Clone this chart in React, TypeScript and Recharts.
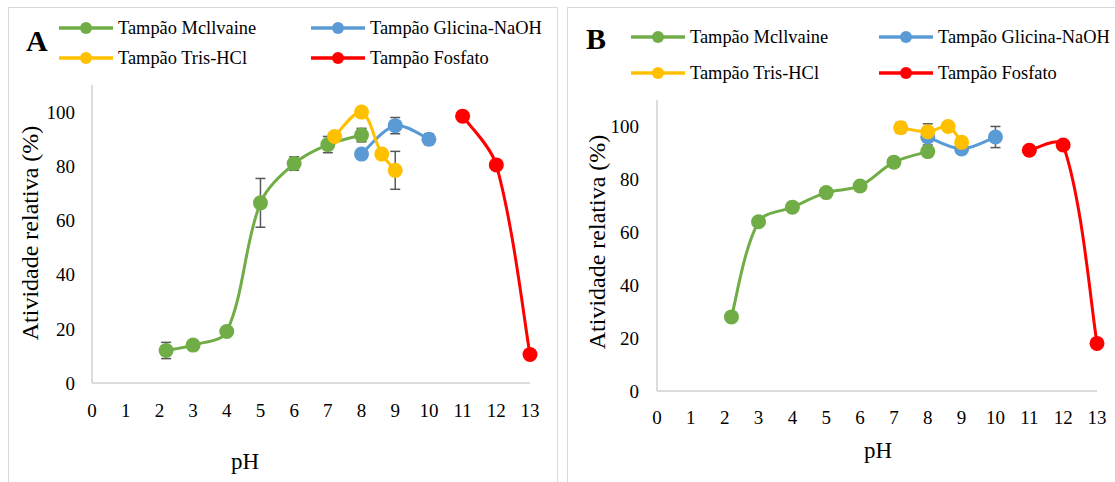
import React from 'react';
import { LineChart, Line, XAxis, YAxis, ErrorBar, Label } from 'recharts';

const FONT = '"Liberation Serif", "Times New Roman", serif';

// pH values per buffer
const phMcIlvaine = [2.2, 3, 4, 5, 6, 7, 8];
const phGlycine = [8, 9, 10];
const phTris = [7.2, 8, 8.6, 9];
const phPhosphate = [11, 12, 13];

// Panel A
const mcA = [12, 14, 19, 66.5, 81, 88, 91.5];
const mcAErr = [3, 0, 0, 9, 2.5, 3, 2.5];
const glyA = [84.5, 95, 90];
const glyAErr = [0, 3, 2];
const trisA = [91, 100, 84.5, 78.5];
const trisAErr = [0, 0, 0, 7];
const fosA = [98.5, 80.5, 10.5];
const fosAErr = [0, 0, 0];

// Panel B
const mcB = [28, 64, 69.5, 75, 77.5, 86.5, 90.5];
const mcBErr = [0, 0, 0, 0, 0, 0, 0];
const glyB = [96, 91.5, 96];
const glyBErr = [3, 0, 4];
const trisB = [99.5, 98, 100, 94];
const trisBErr = [2, 3, 0, 0];
const fosB = [91, 93, 18];
const fosBErr = [0, 0, 0];

const xTicks = [0, 1, 2, 3, 4, 5, 6, 7, 8, 9, 10, 11, 12, 13];
const yTicks = [0, 20, 40, 60, 80, 100];

const seriesNames = ['Tampão Mcllvaine', 'Tampão Glicina-NaOH', 'Tampão Tris-HCl', 'Tampão Fosfato'];
const colors = ['#70ad47', '#5b9bd5', '#ffc000', '#ff0000'];

const build = (xs: number[], ys: number[], es: number[]) =>
  xs.map((ph, i) => ({ ph, v: ys[i], err: es[i] }));

// Excel-like smoothed line: tangent handles split by adjacent chord lengths
function excelSmooth(context: any) {
  let pts: number[][] = [];
  return {
    areaStart() {},
    areaEnd() {},
    lineStart() {
      pts = [];
    },
    point(x: number, y: number) {
      pts.push([+x, +y]);
    },
    lineEnd() {
      const n = pts.length;
      if (!n) return;
      context.moveTo(pts[0][0], pts[0][1]);
      const dist = (a: number[], b: number[]) => Math.hypot(b[0] - a[0], b[1] - a[1]);
      const k = 1 / 3;
      for (let i = 0; i < n - 1; i++) {
        const p1 = pts[i];
        const p2 = pts[i + 1];
        const d1 = dist(p1, p2);
        let c1x: number, c1y: number, c2x: number, c2y: number;
        if (i === 0) {
          c1x = p1[0] + (p2[0] - p1[0]) / 6;
          c1y = p1[1] + (p2[1] - p1[1]) / 6;
        } else {
          const p0 = pts[i - 1];
          const d0 = dist(p0, p1);
          const r = d1 / (d0 + d1 || 1);
          c1x = p1[0] + (p2[0] - p0[0]) * r * k;
          c1y = p1[1] + (p2[1] - p0[1]) * r * k;
        }
        if (i === n - 2) {
          c2x = p2[0] - (p2[0] - p1[0]) / 6;
          c2y = p2[1] - (p2[1] - p1[1]) / 6;
        } else {
          const p3 = pts[i + 2];
          const d2 = dist(p2, p3);
          const r = d1 / (d1 + d2 || 1);
          c2x = p2[0] - (p3[0] - p1[0]) * r * k;
          c2y = p2[1] - (p3[1] - p1[1]) * r * k;
        }
        context.bezierCurveTo(c1x, c1y, c2x, c2y, p2[0], p2[1]);
      }
    },
  };
}

const tickStyle = { fontFamily: FONT, fontSize: 19, fill: '#000' };

type PanelProps = {
  left: number;
  width: number;
  height: number;
  margin: { top: number; right: number; bottom: number; left: number };
  yAxisWidth: number;
  xTickMargin: number;
  yTickMargin: number;
  series: { data: any[] }[];
  yTitle: { x: number; y: number };
  xTitle: { x: number; y: number };
};

function Panel(p: PanelProps) {
  return (
    <div style={{ position: 'absolute', left: p.left, top: 0 }}>
      <LineChart width={p.width} height={p.height} margin={p.margin}>
        <XAxis
          type="number"
          dataKey="ph"
          domain={[0, 13]}
          ticks={xTicks}
          interval={0}
          tickLine={false}
          tickSize={0}
          tickMargin={p.xTickMargin}
          height={30}
          axisLine={{ stroke: '#d0d0d0', strokeWidth: 1.5 }}
          tick={tickStyle}
          allowDuplicatedCategory={false}
        >
          <Label
            content={() => (
              <text x={p.xTitle.x} y={p.xTitle.y} textAnchor="middle" dominantBaseline="central"
                style={{ fontFamily: FONT, fontSize: 23, fill: '#000' }}>pH</text>
            )}
          />
        </XAxis>
        <YAxis
          type="number"
          domain={[0, 110]}
          ticks={yTicks}
          interval={0}
          width={p.yAxisWidth}
          tickLine={false}
          tickSize={0}
          tickMargin={p.yTickMargin}
          axisLine={{ stroke: '#d0d0d0', strokeWidth: 1.5 }}
          tick={tickStyle}
        >
          <Label
            content={() => (
              <text x={p.yTitle.x} y={p.yTitle.y} textAnchor="middle" dominantBaseline="central"
                transform={`rotate(-90 ${p.yTitle.x} ${p.yTitle.y})`}
                style={{ fontFamily: FONT, fontSize: 24, fill: '#000' }}>Atividade relativa (%)</text>
            )}
          />
        </YAxis>
        {p.series.map((s, i) => (
          <Line
            key={i}
            data={s.data}
            dataKey="v"
            name={seriesNames[i]}
            type={excelSmooth as any}
            stroke={colors[i]}
            strokeWidth={3}
            dot={{ r: 7.5, fill: colors[i], stroke: colors[i], strokeWidth: 0 }}
            activeDot={false}
            isAnimationActive={false}
          >
            <ErrorBar dataKey="err" width={5} stroke="#595959" strokeWidth={1.5} direction="y" />
          </Line>
        ))}
      </LineChart>
    </div>
  );
}

function LegendItem({ x, y, i }: { x: number; y: number; i: number }) {
  return (
    <div style={{ position: 'absolute', left: x, top: y - 12, height: 24, display: 'flex', alignItems: 'center', whiteSpace: 'nowrap' }}>
      <svg width={56} height={16} style={{ marginRight: 4 }}>
        <line x1={1} y1={8} x2={55} y2={8} stroke={colors[i]} strokeWidth={3.5} />
        <circle cx={28} cy={8} r={6} fill={colors[i]} />
      </svg>
      <span style={{ fontFamily: FONT, fontSize: 18.4, color: '#000' }}>{seriesNames[i]}</span>
    </div>
  );
}

export default function App() {
  const seriesA = [
    { data: build(phMcIlvaine, mcA, mcAErr) },
    { data: build(phGlycine, glyA, glyAErr) },
    { data: build(phTris, trisA, trisAErr) },
    { data: build(phPhosphate, fosA, fosAErr) },
  ];
  const seriesB = [
    { data: build(phMcIlvaine, mcB, mcBErr) },
    { data: build(phGlycine, glyB, glyBErr) },
    { data: build(phTris, trisB, trisBErr) },
    { data: build(phPhosphate, fosB, fosBErr) },
  ];
  return (
    <div style={{ position: 'absolute', left: 0, top: 0, width: 1115, height: 482, overflow: 'hidden', background: '#fff' }}>
      <div style={{ position: 'absolute', left: 8, top: 7, width: 548, height: 500, border: '1px solid #d9d9d9' }} />
      <div style={{ position: 'absolute', left: 567, top: 7, width: 560, height: 500, border: '1px solid #d9d9d9' }} />

      <Panel
        left={0}
        width={557}
        height={482}
        margin={{ top: 85, right: 27, bottom: 69, left: 0 }}
        yAxisWidth={92}
        xTickMargin={21}
        yTickMargin={17}
        series={seriesA}
        yTitle={{ x: 30, y: 233 }}
        xTitle={{ x: 245, y: 461 }}
      />
      <Panel
        left={567}
        width={548}
        height={482}
        margin={{ top: 100, right: 18, bottom: 61, left: 0 }}
        yAxisWidth={90}
        xTickMargin={20}
        yTickMargin={18}
        series={seriesB}
        yTitle={{ x: 30, y: 242 }}
        xTitle={{ x: 311, y: 450 }}
      />

      <div style={{ position: 'absolute', left: 26, top: 24, fontFamily: FONT, fontSize: 30, fontWeight: 'bold' }}>A</div>
      <div style={{ position: 'absolute', left: 586, top: 22, fontFamily: FONT, fontSize: 30, fontWeight: 'bold' }}>B</div>

      <LegendItem x={58} y={28} i={0} />
      <LegendItem x={310} y={28} i={1} />
      <LegendItem x={58} y={58} i={2} />
      <LegendItem x={310} y={58} i={3} />

      <LegendItem x={630} y={37} i={0} />
      <LegendItem x={878} y={37} i={1} />
      <LegendItem x={630} y={73} i={2} />
      <LegendItem x={878} y={73} i={3} />
    </div>
  );
}
